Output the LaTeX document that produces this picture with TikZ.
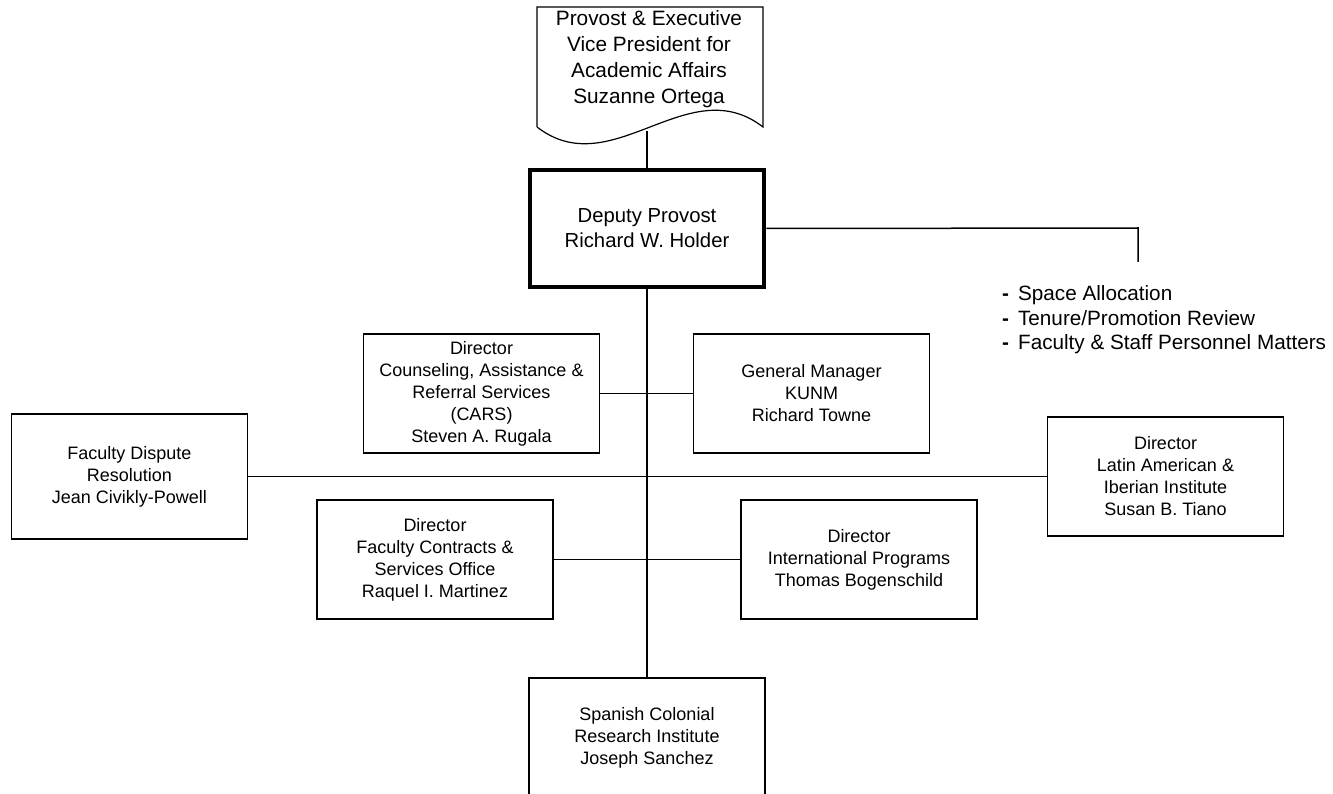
\documentclass[tikz,border=0pt]{standalone}
\usepackage{fontspec}
\setmainfont{Liberation Sans}
\begin{document}
\begin{tikzpicture}[x=1pt,y=-1pt,
  unitbox/.style={draw,line width=1.5pt,minimum width=236pt,minimum height=119pt,align=center,inner sep=0pt,font=\fontsize{18}{22}\selectfont},
  link/.style={line width=1.5pt}]
\clip (0,0) rectangle (1333,794);
\fill[white] (0,0) rectangle (1333,794);
% top document shape
\draw[line width=1.2pt] (537,127) -- (537,7) -- (763,7) -- (763,127)
  .. controls (688,69) and (612,185) .. (537,127);
\node[align=center,inner sep=0pt,font=\fontsize{20.8}{26}\selectfont] (prov) at (649,59)
  {Provost \& Executive\\Vice President for\\Academic Affairs\\Suzanne Ortega};
\coordinate (provb) at (647,131);
% deputy
\node[draw,line width=4.5pt,minimum width=234pt,minimum height=117pt,align=center,inner sep=0pt,font=\fontsize{20.3}{25}\selectfont] (dep) at (647,228.5)
  {Deputy Provost\\Richard W. Holder};
\draw[link] (provb) -- (dep.north);
% duties
\coordinate (dutyc) at (1138,228);
\coordinate (dutyb) at (1138,262);
\draw[link] (dep.east) -- (dutyc) -- (dutyb);
\node[anchor=west,align=left,inner sep=0pt,font=\fontsize{20.7}{24.5}\selectfont] (duties) at (1002,320)
  {\textbf{-}\hspace{9pt}Space Allocation\\\textbf{-}\hspace{9pt}Tenure/Promotion Review\\\textbf{-}\hspace{9pt}Faculty \& Staff Personnel Matters};
% boxes
\node[unitbox] (cars) at (481.5,393.5) {Director\\Counseling, Assistance \&\\Referral Services\\(CARS)\\Steven A. Rugala};
\node[unitbox] (kunm) at (811.5,393.5) {General Manager\\KUNM\\Richard Towne};
\node[unitbox,minimum height=125pt] (fd) at (129.5,476.5) {Faculty Dispute\\Resolution\\Jean Civikly-Powell};
\node[unitbox] (la) at (1165.5,476.5) {Director\\Latin American \&\\Iberian Institute\\Susan B. Tiano};
\node[unitbox] (fc) at (435,559.5) {Director\\Faculty Contracts \&\\Services Office\\Raquel I. Martinez};
\node[unitbox] (ip) at (859,559.5) {Director\\International Programs\\Thomas Bogenschild};
\node[unitbox,minimum height=120pt] (sp) at (647,738) {Spanish Colonial\\Research Institute\\Joseph Sanchez};
% connectors
\draw[link] (dep.south) -- (sp.north);
\draw[link] (cars.east) -- (kunm.west);
\draw[link] (fd.east) -- (la.west);
\draw[link] (fc.east) -- (ip.west);
\end{tikzpicture}
\end{document}
